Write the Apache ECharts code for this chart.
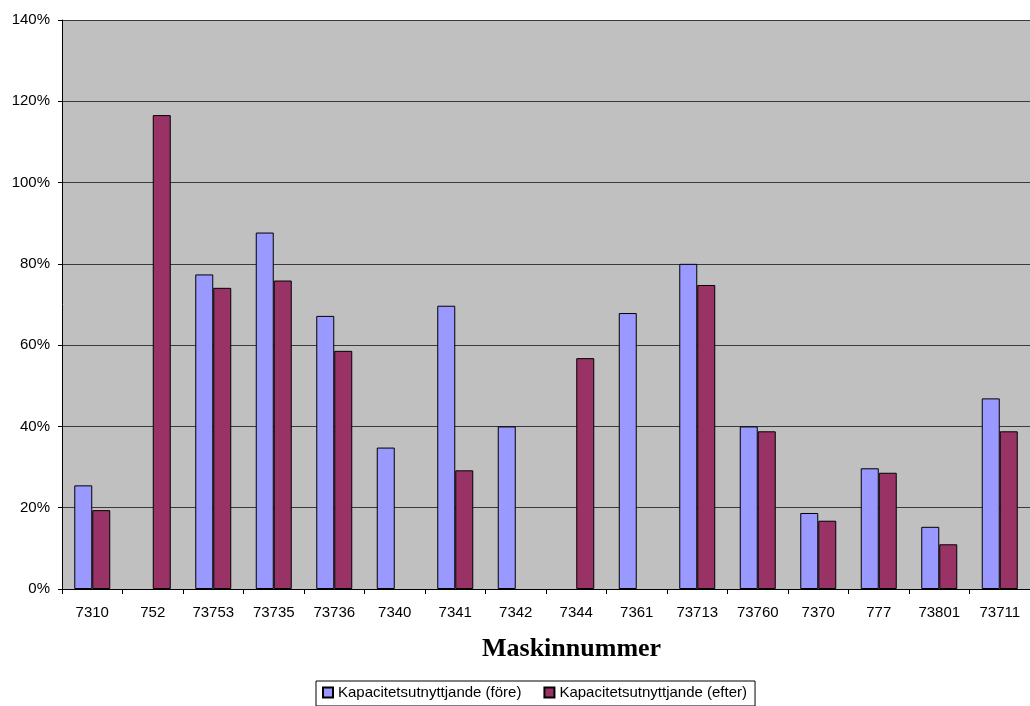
<!DOCTYPE html>
<html>
<head>
<meta charset="utf-8">
<script src="https://cdn.jsdelivr.net/npm/echarts@6/dist/echarts.min.js"></script>
<style>
  html, body { margin: 0; padding: 0; background: #fff; }
  #chart { width: 1030px; height: 706px; }
</style>
</head>
<body>
<div id="chart"></div>
<script>
// maskiner och kapacitetsutnyttjande (i procent), '-' = saknas
const maskiner = ['7310', '752', '73753', '73735', '73736', '7340', '7341', '7342', '7344', '7361', '73713', '73760', '7370', '777', '73801', '73711'];
const fore = [25.5, '-', 77.4, 87.7, 67.2, 34.8, 69.7, 40, '-', 67.9, 80, 40, 18.7, 29.7, 15.3, 46.9];
const efter = [19.4, 116.6, 74.1, 75.9, 58.6, '-', 29.2, '-', 56.8, '-', 74.8, 38.8, 16.8, 28.6, 11, 38.8];
const yTicks = [0, 20, 40, 60, 80, 100, 120, 140];

var chart = echarts.init(document.getElementById('chart'));

var option = {
    animation: false,
    backgroundColor: '#ffffff',
    textStyle: { fontFamily: 'Liberation Sans, Arial, sans-serif' },
    grid: {
        left: 62,
        right: -8,
        top: 20,
        bottom: 117,
        show: true,
        backgroundColor: '#C0C0C0',
        borderWidth: 0
    },
    legend: {
        left: 316,
        top: 681,
        padding: [4, 8, 6, 6],
        borderColor: '#000',
        borderWidth: 1,
        itemWidth: 10,
        itemHeight: 10,
        itemGap: 22,
        icon: 'rect',
        textStyle: { fontSize: 15, color: '#000', fontFamily: 'Liberation Sans, Arial, sans-serif' },
        data: ['Kapacitetsutnyttjande (före)', 'Kapacitetsutnyttjande (efter)']
    },
    graphic: [{
        type: 'text',
        left: 482,
        top: 636,
        style: {
            text: 'Maskinnummer',
            font: 'bold 26px "Liberation Serif", "DejaVu Serif", serif',
            fill: '#000'
        }
    }],
    xAxis: {
        type: 'category',
        data: maskiner,
        axisLine: { lineStyle: { color: '#000', width: 1 } },
        axisTick: { show: true, length: 5, lineStyle: { color: '#000' } },
        axisLabel: { interval: 0, color: '#000', fontSize: 15, margin: 16 }
    },
    yAxis: {
        type: 'value',
        min: 0,
        max: 140,
        interval: 20,
        axisLine: { show: true, lineStyle: { color: '#000', width: 1 } },
        axisTick: { show: true, length: 4, lineStyle: { color: '#000' } },
        axisLabel: {
            color: '#000',
            fontSize: 15,
            margin: 12,
            formatter: function (v) { return yTicks.indexOf(v) >= 0 ? v + '%' : ''; }
        },
        splitLine: { show: true, lineStyle: { color: '#3a3a3a', width: 1 } }
    },
    series: [
        {
            name: 'Kapacitetsutnyttjande (före)',
            type: 'bar',
            barWidth: 18,
            barGap: '0%',
            data: fore,
            itemStyle: { color: '#9999FF', borderColor: '#000', borderWidth: 1 }
        },
        {
            name: 'Kapacitetsutnyttjande (efter)',
            type: 'bar',
            barWidth: 18,
            barGap: '0%',
            data: efter,
            itemStyle: { color: '#993366', borderColor: '#000', borderWidth: 1 }
        }
    ]
};

chart.setOption(option);
window.addEventListener('resize', chart.resize);
</script>
</body>
</html>
